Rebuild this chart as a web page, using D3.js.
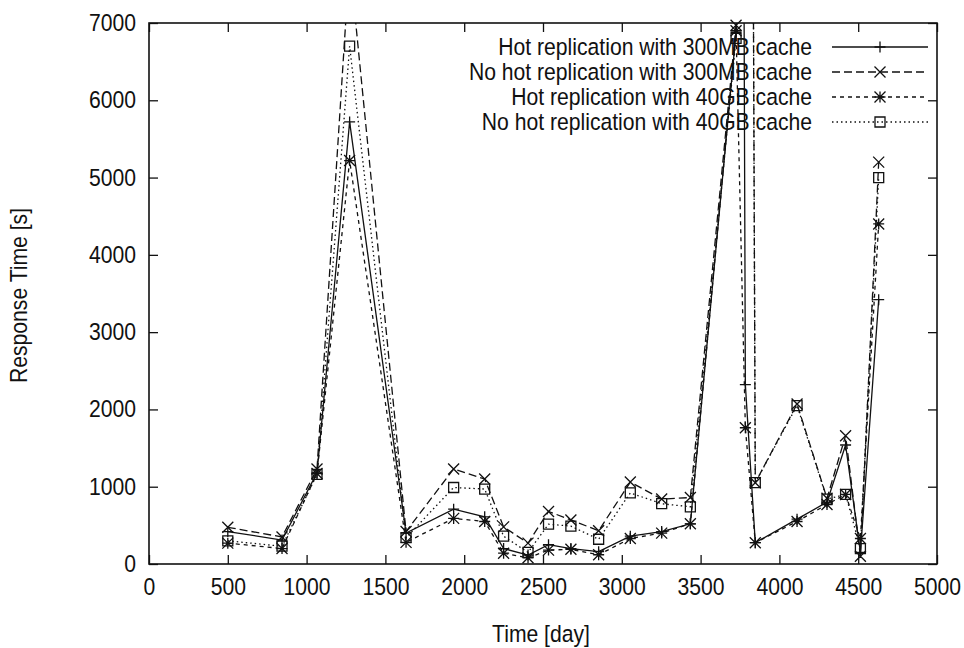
<!DOCTYPE html>
<html><head><meta charset="utf-8">
<script src="https://cdn.jsdelivr.net/npm/d3@7"></script>
<style>
body{margin:0;background:#fff}
text{font-family:"Liberation Sans",Arial,Helvetica,sans-serif;fill:#111}
</style>
</head><body>
<svg id="chart" width="964" height="648"></svg>
<script>
// ---- data ----
const days = [500, 844, 1066, 1273, 1631, 1933, 2130, 2250, 2405, 2535, 2677, 2853, 3054, 3253, 3435, 3725, 3772, 3784, 3826, 3847, 4112, 4302, 4420, 4514, 4630];
const hot300   = [420, 310, 1180, 5720, 400, 710, 610, 200, 115, 250, 200, 160, 360, 420, 520, 6880, 9500, 2320, null, 276, 580, 800, 1540, 150, 3420];
const noHot300 = [475, 350, 1230, 7800, 420, 1230, 1100, 480, 270, 680, 570, 430, 1060, 840, 860, 6970, null, null, 12000, 1052, 2070, 850, 1660, 100, 5200];
const hot40    = [270, 200, 1170, 5220, 280, 590, 550, 140, 80, 180, 190, 120, 330, 400, 520, 6900, null, 1763, null, 276, 550, 770, 900, 330, 4400];
const noHot40  = [300, 230, 1160, 6700, 340, 990, 970, 360, 150, 515, 490, 320, 920, 780, 740, 6800, null, null, 12000, 1052, 2050, 840, 900, 200, 5000];
const seriesNames = ["Hot replication with 300MB cache", "No hot replication with 300MB cache", "Hot replication with 40GB cache", "No hot replication with 40GB cache"];
const xTicks = [0, 500, 1000, 1500, 2000, 2500, 3000, 3500, 4000, 4500, 5000];
const yTicks = [0, 1000, 2000, 3000, 4000, 5000, 6000, 7000];
const xTitle = "Time [day]";
const yTitle = "Response Time [s]";

const seriesValues = [hot300, noHot300, hot40, noHot40];
const markers = ["plus", "cross", "star", "square"];
const dashes = [null, "8,4", "4,4", "1.5,3"];

// ---- layout ----
const L = 149, R = 937, T = 23, B = 564;
const svg = d3.select("#chart");
const x = d3.scaleLinear().domain([0, 5000]).range([L, R]);
const y = d3.scaleLinear().domain([0, 7000]).range([B, T]);
const fs = 23.5, sx = 0.9;
const stroke = "#111";

svg.append("defs").append("clipPath").attr("id", "plotclip")
  .append("rect").attr("x", L).attr("y", T).attr("width", R - L).attr("height", B - T);

// axes (inward ticks, mirrored on all four sides)
const gx = svg.append("g").attr("transform", `translate(0,${B})`)
  .call(d3.axisBottom(x).tickValues(xTicks).tickFormat(d3.format("d")).tickSize(-9).tickPadding(14));
const gxt = svg.append("g").attr("transform", `translate(0,${T})`)
  .call(d3.axisTop(x).tickValues(xTicks).tickFormat("").tickSize(-9));
const gy = svg.append("g").attr("transform", `translate(${L},0)`)
  .call(d3.axisLeft(y).tickValues(yTicks).tickFormat(d3.format("d")).tickSize(-9).tickPadding(14.5));
const gyr = svg.append("g").attr("transform", `translate(${R},0)`)
  .call(d3.axisRight(y).tickValues(yTicks).tickFormat("").tickSize(-9));
[gx, gxt, gy, gyr].forEach(g => {
  g.select(".domain").remove();
  g.selectAll(".tick line").attr("stroke", stroke).attr("stroke-width", 1.3);
  g.selectAll(".tick text").attr("font-size", fs).attr("fill", "#111")
    .attr("transform", `scale(${sx},1)`)
    .style("font-family", '"Liberation Sans",Arial,sans-serif');
});

svg.append("rect").attr("x", L).attr("y", T).attr("width", R - L).attr("height", B - T)
  .attr("fill", "none").attr("stroke", stroke).attr("stroke-width", 1.6);

// axis titles
svg.append("text").attr("transform", `translate(${(L + R) / 2 - 2},642) scale(${sx},1)`)
  .attr("text-anchor", "middle").attr("font-size", fs).text(xTitle);
svg.append("text").attr("transform", `translate(27,${(T + B) / 2 + 2}) rotate(-90) scale(${sx},1)`)
  .attr("text-anchor", "middle").attr("font-size", fs).text(yTitle);

// marker drawing
function drawMarker(g, type, cx, cy) {
  const s = 5.5;
  const p = g.append("path").attr("fill", "none").attr("stroke", stroke).attr("stroke-width", 1.3);
  let d = "";
  if (type === "plus" || type === "star") d += `M${cx - s},${cy}H${cx + s}M${cx},${cy - s}V${cy + s}`;
  if (type === "cross" || type === "star") d += `M${cx - s},${cy - s}L${cx + s},${cy + s}M${cx - s},${cy + s}L${cx + s},${cy - s}`;
  if (type === "square") d += `M${cx - 5},${cy - 5}h10v10h-10z`;
  p.attr("d", d);
}

// series
const plot = svg.append("g");
seriesValues.forEach((vals, i) => {
  const pts = days.map((d, j) => ({ d, v: vals[j] })).filter(p => p.v !== null);
  const line = d3.line().x(p => x(p.d)).y(p => y(p.v));
  plot.append("path").datum(pts).attr("d", line)
    .attr("clip-path", "url(#plotclip)")
    .attr("fill", "none").attr("stroke", stroke).attr("stroke-width", 1.3)
    .attr("stroke-dasharray", dashes[i]);
  const mg = plot.append("g");
  pts.filter(p => p.v <= 7000).forEach(p => drawMarker(mg, markers[i], x(p.d), y(p.v)));
});

// legend
const lg = svg.append("g");
seriesNames.forEach((name, i) => {
  const ly = 47 + i * 25;
  lg.append("text").attr("transform", `translate(812,${ly}) scale(${sx},1)`).attr("dy", "0.36em")
    .attr("text-anchor", "end").attr("font-size", fs).text(name);
  lg.append("line").attr("x1", 832).attr("x2", 928).attr("y1", ly).attr("y2", ly)
    .attr("stroke", stroke).attr("stroke-width", 1.3).attr("stroke-dasharray", dashes[i]);
  drawMarker(lg, markers[i], 880, ly);
});
</script>
</body></html>
